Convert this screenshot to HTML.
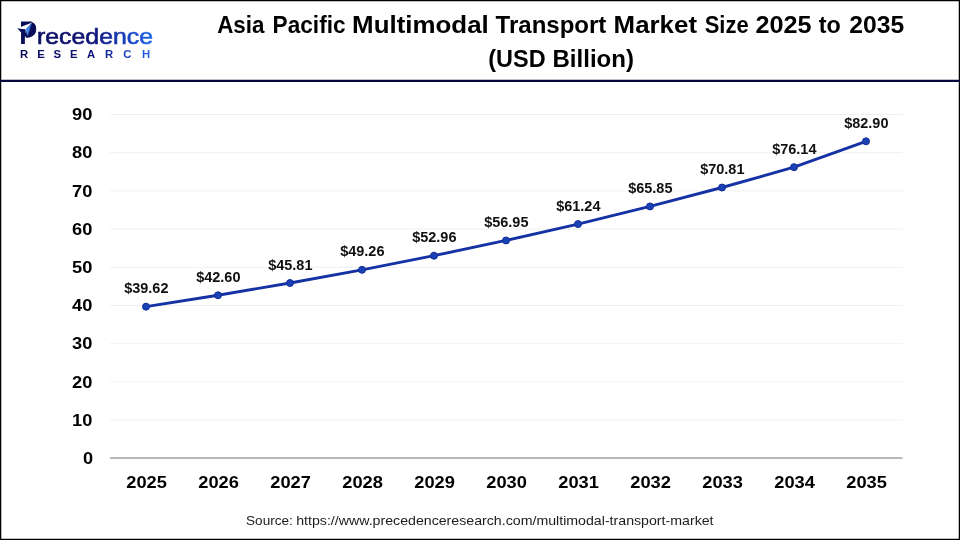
<!DOCTYPE html>
<html lang="en"><head><meta charset="utf-8"><title>Asia Pacific Multimodal Transport Market Size 2025 to 2035</title>
<style>
html,body{margin:0;padding:0;background:#fff;}
body{width:960px;height:540px;overflow:hidden;font-family:"Liberation Sans",sans-serif;}
svg{display:block;}
text{font-family:"Liberation Sans",sans-serif;}
.title text{font-weight:bold;font-size:24.5px;fill:#000;}
.grid line{stroke:#f0f0f0;stroke-width:1;}
.ylab text{font-weight:bold;font-size:16px;fill:#000;text-anchor:end;}
.xlab text{font-weight:bold;font-size:16px;fill:#000;text-anchor:middle;}
.dlab text{font-weight:bold;font-size:14px;fill:#111;text-anchor:middle;}
.foot text{font-size:12.9px;fill:#1c1c1c;}
</style></head><body>
<svg width="960" height="540" viewBox="0 0 960 540">
<defs>
<linearGradient id="lg" gradientUnits="userSpaceOnUse" x1="20" y1="0" x2="154" y2="0">
<stop offset="0" stop-color="#0a0d58"/><stop offset="0.55" stop-color="#10167a"/><stop offset="0.76" stop-color="#173cb8"/><stop offset="1" stop-color="#226aec"/>
</linearGradient>
<linearGradient id="lg2" gradientUnits="userSpaceOnUse" x1="-15.4" y1="0" x2="106.5" y2="0">
<stop offset="0" stop-color="#0a0d58"/><stop offset="0.55" stop-color="#10167a"/><stop offset="0.76" stop-color="#173cb8"/><stop offset="1" stop-color="#226aec"/>
</linearGradient>
<linearGradient id="pl" x1="0" y1="0" x2="1" y2="0">
<stop offset="0" stop-color="#5aa0f5"/><stop offset="1" stop-color="#1f58cc"/>
</linearGradient>
</defs>
<rect x="0" y="0" width="960" height="540" fill="#fff"/>
<rect x="0" y="0" width="960" height="540" fill="none" stroke="#000" stroke-width="2.5"/>
<line x1="0" x2="960" y1="80.9" y2="80.9" stroke="#07073a" stroke-width="2.1"/>
<g class="logo">
<text y="43.7"><tspan x="19.2" y="43.8" font-size="30.6" font-weight="bold" fill="#0a0d58" textLength="17.86" lengthAdjust="spacingAndGlyphs">P</tspan><tspan x="36.9" y="43.6" font-size="22.6" fill="url(#lg)" stroke="url(#lg)" stroke-width="0.6" textLength="116.2" lengthAdjust="spacingAndGlyphs">recedence</tspan></text>
<path d="M25.8 29.2 L32.4 22.2 C35 23.2 36.1 26.5 36 29.6 C35.8 34.5 32 37.6 27.6 37.8 L25.8 37.8 Z" fill="#0a0d58"/>
<path d="M21.1 21.5 L31.5 21.5 L32.6 22.2 L21.1 26.8 Z" fill="#0a0d58"/>
<path d="M20 27.2 L32.4 22.45 L25.3 29.4 L20 28.7 Z" fill="#fff"/>
<path d="M17.1 28.3 L25.4 29.4 L25.7 33.6 L21.1 32.5 Q19.3 30.4 17.1 28.3 Z" fill="#0a0d58"/>
<path d="M32 23 L25.5 29.3 L27.5 36.2 Z" fill="url(#pl)"/>
<text x="19.9 37.2 53.5 70.1 87 105 123.2 142.1" y="57.7" font-size="11.3" font-weight="bold" fill="url(#lg)">RESEARCH</text>
</g>
<g class="title"><text><tspan x="217.15" y="32.7" textLength="47.31" lengthAdjust="spacingAndGlyphs">Asia</tspan> <tspan x="272.59" y="32.7" textLength="72.98" lengthAdjust="spacingAndGlyphs">Pacific</tspan> <tspan x="352.13" y="32.7" textLength="136.65" lengthAdjust="spacingAndGlyphs">Multimodal</tspan> <tspan x="495.60" y="32.7" textLength="110.77" lengthAdjust="spacingAndGlyphs">Transport</tspan> <tspan x="613.63" y="32.7" textLength="83.39" lengthAdjust="spacingAndGlyphs">Market</tspan> <tspan x="704.66" y="32.7" textLength="43.99" lengthAdjust="spacingAndGlyphs">Size</tspan> <tspan x="755.46" y="32.7" textLength="56.17" lengthAdjust="spacingAndGlyphs">2025</tspan> <tspan x="818.75" y="32.7" textLength="22.01" lengthAdjust="spacingAndGlyphs">to</tspan> <tspan x="849.23" y="32.7" textLength="54.89" lengthAdjust="spacingAndGlyphs">2035</tspan> <tspan x="488.30" y="66.6" textLength="57.26" lengthAdjust="spacingAndGlyphs">(USD</tspan> <tspan x="552.50" y="66.6" textLength="81.47" lengthAdjust="spacingAndGlyphs">Billion)</tspan></text></g>
<g class="grid"><line x1="110" x2="902.5" y1="420.10" y2="420.10"/><line x1="110" x2="902.5" y1="381.90" y2="381.90"/><line x1="110" x2="902.5" y1="343.70" y2="343.70"/><line x1="110" x2="902.5" y1="305.50" y2="305.50"/><line x1="110" x2="902.5" y1="267.30" y2="267.30"/><line x1="110" x2="902.5" y1="229.10" y2="229.10"/><line x1="110" x2="902.5" y1="190.90" y2="190.90"/><line x1="110" x2="902.5" y1="152.70" y2="152.70"/><line x1="110" x2="902.5" y1="114.50" y2="114.50"/></g>
<line x1="110" x2="902.5" y1="458.0" y2="458.0" stroke="#b9b9b9" stroke-width="2"/>
<g class="ylab"><text x="93.1" y="464.00" textLength="10.1" lengthAdjust="spacingAndGlyphs">0</text><text x="92.3" y="425.80" textLength="20.3" lengthAdjust="spacingAndGlyphs">10</text><text x="92.3" y="387.60" textLength="20.3" lengthAdjust="spacingAndGlyphs">20</text><text x="92.3" y="349.40" textLength="20.3" lengthAdjust="spacingAndGlyphs">30</text><text x="92.3" y="311.20" textLength="20.3" lengthAdjust="spacingAndGlyphs">40</text><text x="92.3" y="273.00" textLength="20.3" lengthAdjust="spacingAndGlyphs">50</text><text x="92.3" y="234.80" textLength="20.3" lengthAdjust="spacingAndGlyphs">60</text><text x="92.3" y="196.60" textLength="20.3" lengthAdjust="spacingAndGlyphs">70</text><text x="92.3" y="158.40" textLength="20.3" lengthAdjust="spacingAndGlyphs">80</text><text x="92.3" y="120.20" textLength="20.3" lengthAdjust="spacingAndGlyphs">90</text></g>
<g class="xlab"><text x="146.6" y="487.5" textLength="40.6" lengthAdjust="spacingAndGlyphs">2025</text><text x="218.6" y="487.5" textLength="40.6" lengthAdjust="spacingAndGlyphs">2026</text><text x="290.6" y="487.5" textLength="40.6" lengthAdjust="spacingAndGlyphs">2027</text><text x="362.6" y="487.5" textLength="40.6" lengthAdjust="spacingAndGlyphs">2028</text><text x="434.6" y="487.5" textLength="40.6" lengthAdjust="spacingAndGlyphs">2029</text><text x="506.6" y="487.5" textLength="40.6" lengthAdjust="spacingAndGlyphs">2030</text><text x="578.6" y="487.5" textLength="40.6" lengthAdjust="spacingAndGlyphs">2031</text><text x="650.6" y="487.5" textLength="40.6" lengthAdjust="spacingAndGlyphs">2032</text><text x="722.6" y="487.5" textLength="40.6" lengthAdjust="spacingAndGlyphs">2033</text><text x="794.6" y="487.5" textLength="40.6" lengthAdjust="spacingAndGlyphs">2034</text><text x="866.6" y="487.5" textLength="40.6" lengthAdjust="spacingAndGlyphs">2035</text></g>
<polyline points="146.0,306.65 218.0,295.27 290.0,283.01 362.0,269.83 434.0,255.69 506.0,240.45 578.0,224.06 650.0,206.45 722.0,187.51 794.0,167.15 866.0,141.32" fill="none" stroke="#1532a4" stroke-width="2.9" stroke-linejoin="round" stroke-linecap="round"/>
<g fill="#1b42b4" stroke="#132d98" stroke-width="1"><circle cx="146.0" cy="306.65" r="3.5"/><circle cx="218.0" cy="295.27" r="3.5"/><circle cx="290.0" cy="283.01" r="3.5"/><circle cx="362.0" cy="269.83" r="3.5"/><circle cx="434.0" cy="255.69" r="3.5"/><circle cx="506.0" cy="240.45" r="3.5"/><circle cx="578.0" cy="224.06" r="3.5"/><circle cx="650.0" cy="206.45" r="3.5"/><circle cx="722.0" cy="187.51" r="3.5"/><circle cx="794.0" cy="167.15" r="3.5"/><circle cx="866.0" cy="141.32" r="3.5"/></g>
<g class="dlab"><text x="146.3" y="293.25" textLength="44.3" lengthAdjust="spacingAndGlyphs">$39.62</text><text x="218.3" y="281.87" textLength="44.3" lengthAdjust="spacingAndGlyphs">$42.60</text><text x="290.3" y="269.61" textLength="44.3" lengthAdjust="spacingAndGlyphs">$45.81</text><text x="362.3" y="256.43" textLength="44.3" lengthAdjust="spacingAndGlyphs">$49.26</text><text x="434.3" y="242.29" textLength="44.3" lengthAdjust="spacingAndGlyphs">$52.96</text><text x="506.3" y="227.05" textLength="44.3" lengthAdjust="spacingAndGlyphs">$56.95</text><text x="578.3" y="210.66" textLength="44.3" lengthAdjust="spacingAndGlyphs">$61.24</text><text x="650.3" y="193.05" textLength="44.3" lengthAdjust="spacingAndGlyphs">$65.85</text><text x="722.3" y="174.11" textLength="44.3" lengthAdjust="spacingAndGlyphs">$70.81</text><text x="794.3" y="153.75" textLength="44.3" lengthAdjust="spacingAndGlyphs">$76.14</text><text x="866.3" y="127.92" textLength="44.3" lengthAdjust="spacingAndGlyphs">$82.90</text></g>
<g class="foot"><text><tspan x="246.08" y="525.3" textLength="46.75" lengthAdjust="spacingAndGlyphs">Source:</tspan> <tspan x="296.21" y="525.3" textLength="417.34" lengthAdjust="spacingAndGlyphs">https://www.precedenceresearch.com/multimodal-transport-market</tspan></text></g>
</svg>
</body></html>
